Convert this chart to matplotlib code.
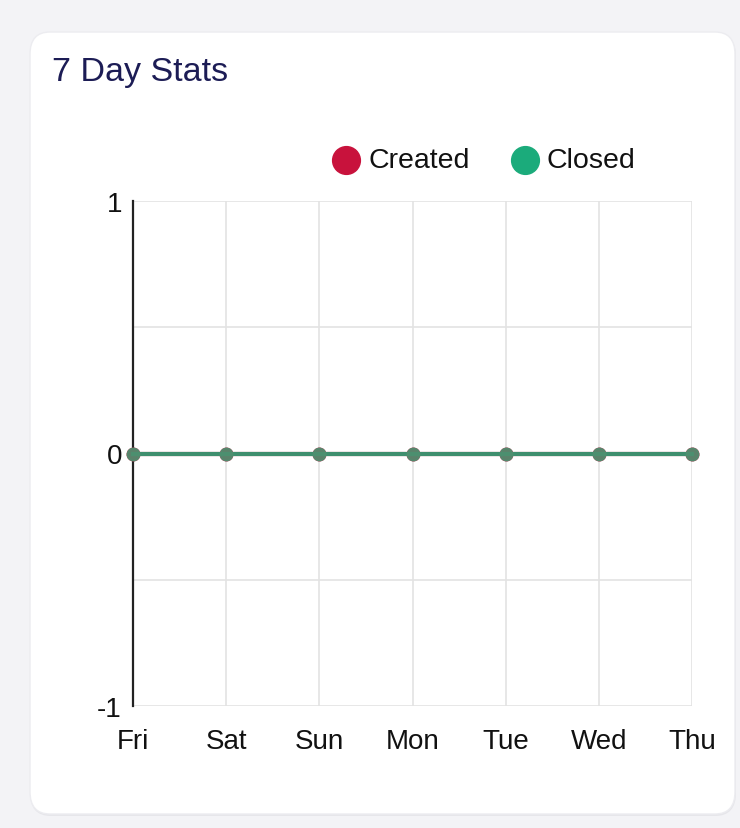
import matplotlib
matplotlib.use("Agg")
import matplotlib.pyplot as plt
from matplotlib.patches import FancyBboxPatch
from matplotlib.lines import Line2D

plt.rcParams['font.family'] = ['Liberation Sans', 'DejaVu Sans']

days = ["Fri", "Sat", "Sun", "Mon", "Tue", "Wed", "Thu"]
created = [0, 0, 0, 0, 0, 0, 0]
closed = [0, 0, 0, 0, 0, 0, 0]
title = "7 Day Stats"
series_names = ["Created", "Closed"]
colors = ["#c8123c", "#1bab7b"]

W, H = 740, 829
fig = plt.figure(figsize=(W / 100, H / 100), dpi=100)
fig.patch.set_facecolor("#f3f3f6")

# card with subtle shadow
shadow = FancyBboxPatch((30 / W, (H - 817) / H), (706 / W), (783 / H),
                        boxstyle="round,pad=0,rounding_size=0.028",
                        transform=fig.transFigure, facecolor="#e6e6ea",
                        edgecolor="none", zorder=0)
fig.patches.append(shadow)
card = FancyBboxPatch((30 / W, (H - 815) / H), (705 / W), (782 / H),
                      boxstyle="round,pad=0,rounding_size=0.027",
                      transform=fig.transFigure, facecolor="white",
                      edgecolor="#ececf0", linewidth=1.0, zorder=0.1)
fig.patches.append(card)

fig.text(52 / W, 1 - 73 / H, title, fontsize=24.5, color="#1c1c55",
         ha="left", va="center")

ax = fig.add_axes([133 / W, 1 - 707 / H, (692 - 133) / W, (707 - 202) / H])
ax.set_zorder(2)
ax.set_facecolor("none")
x = list(range(len(days)))
ax.plot(x, created, color=colors[0], linewidth=3, marker="o", markersize=9,
        clip_on=False, zorder=3)
ax.plot(x, closed, color="#2f9e74", alpha=0.9, linewidth=3, marker="o",
        markersize=9, markerfacecolor="#4e8f70", markeredgecolor="#4e8f70",
        clip_on=False, zorder=4)

ax.set_xlim(0, len(days) - 1)
ax.set_ylim(-1, 1)
ax.set_xticks(x)
ax.set_xticklabels(days)
ax.set_yticks([-1, -0.5, 0, 0.5, 1])
ax.set_yticklabels(["-1", "", "0", "", "1"])
ax.grid(True, color="#e3e3e3", linewidth=1.2)
ax.set_axisbelow(True)
for s in ["top", "right", "bottom"]:
    ax.spines[s].set_visible(False)
ax.spines["left"].set_color("#222222")
ax.spines["left"].set_linewidth(1.6)
ax.tick_params(axis="both", length=0, labelsize=20, colors="#111111")
ax.tick_params(axis="x", pad=16)
ax.tick_params(axis="y", pad=8)

# legend (drawn at figure level)
leg_circle_x = [346, 525]
leg_y = 161
for cx, c, name in zip(leg_circle_x, colors, series_names):
    fig.add_artist(Line2D([cx / W], [1 - leg_y / H], linestyle="none",
                          marker="o", markersize=20, markerfacecolor=c,
                          markeredgecolor=c, transform=fig.transFigure))
    fig.text((cx + 22) / W, 1 - leg_y / H, name, fontsize=20.5,
             color="#111111", ha="left", va="center")

fig.savefig("out.png", dpi=100, facecolor=fig.get_facecolor())
